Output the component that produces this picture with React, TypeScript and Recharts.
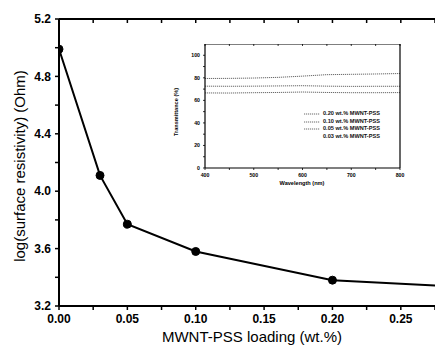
import { LineChart, Line, XAxis, YAxis, Legend } from 'recharts'

const loading = [0, 0.03, 0.05, 0.1, 0.2, 0.3]
const logResistivity = [4.99, 4.11, 3.77, 3.58, 3.38, 3.33]
const loadingTicks = [0, 0.025, 0.05, 0.075, 0.1, 0.125, 0.15, 0.175, 0.2, 0.225, 0.25, 0.275]
const resistivityTicks = [3.2, 3.4, 3.6, 3.8, 4.0, 4.2, 4.4, 4.6, 4.8, 5.0, 5.2]

const wavelength = [400, 450, 500, 550, 600, 650, 700, 750, 800]
const trans005 = [79.4, 79.5, 79.8, 80.4, 81.5, 82.8, 83.1, 83.4, 83.8]
const trans010 = [72.6, 72.5, 72.6, 72.8, 73.0, 72.6, 72.4, 72.5, 72.5]
const trans020 = [66.6, 66.5, 66.8, 67.0, 67.4, 67.0, 66.8, 66.8, 66.9]
const wavelengthTicks = [400, 450, 500, 550, 600, 650, 700, 750, 800]
const transTicks = [0, 10, 20, 30, 40, 50, 60, 70, 80, 90, 100]
const legendLabels = ['0.20 wt.% MWNT-PSS', '0.10 wt.% MWNT-PSS', '0.05 wt.% MWNT-PSS', '0.03 wt.% MWNT-PSS']
const legendHasLine = [true, true, true, false]

const FONT = '"Liberation Sans", Arial, sans-serif'

const mainData = loading.map((x, i) => ({ x, y: logResistivity[i] }))
const insetData = wavelength.map((w, i) => ({
  w,
  t005: trans005[i],
  t010: trans010[i],
  t020: trans020[i],
}))

const fmtLoading = (v: number) => {
  const n = Math.round(v * 1000)
  return n % 50 === 0 ? v.toFixed(2) : ''
}
const fmtRes = (v: number) => (Math.round(v * 10) % 4 === 0 ? v.toFixed(1) : '')
const fmtWave = (v: number) => (v % 100 === 0 ? String(v) : '')
const fmtTrans = (v: number) => (v % 20 === 0 ? String(v) : '')

function InsetLegend() {
  return (
    <div style={{ fontFamily: FONT, fontSize: 5.6, fontWeight: 'bold', color: '#111', lineHeight: '7.7px' }}>
      {legendLabels.map((label, i) => (
        <div key={label} style={{ display: 'flex', alignItems: 'center', height: 7.7 }}>
          <svg width={18} height={4} style={{ marginRight: 1 }}>
            {legendHasLine[i] && (
              <line x1={0} y1={2} x2={16} y2={2} stroke="#444" strokeWidth={0.8} strokeDasharray="1.2 0.8" />
            )}
          </svg>
          <span>{label}</span>
        </div>
      ))}
    </div>
  )
}

export default function App() {
  const axisStroke = { stroke: '#000', strokeWidth: 2 }
  const tickStroke = { stroke: '#000', strokeWidth: 1.5 }
  const tickFont = { fill: '#000', fontSize: 12, fontWeight: 'bold', fontFamily: FONT }
  const insetAxis = { stroke: '#000', strokeWidth: 1.2 }
  const insetTick = { stroke: '#000', strokeWidth: 0.8 }
  const insetTickFont = { fill: '#000', fontSize: 5.2, fontWeight: 'bold', fontFamily: FONT }

  return (
    <div style={{ position: 'absolute', left: 0, top: 0, width: 435, height: 348, overflow: 'hidden', background: '#fff' }}>
      <LineChart width={435} height={348} data={mainData} margin={{ top: 19, right: 0, bottom: 0, left: 0 }}>
        <XAxis
          dataKey="x"
          type="number"
          domain={[0, 0.275]}
          allowDataOverflow
          ticks={loadingTicks}
          interval={0}
          tickFormatter={fmtLoading}
          height={42}
          axisLine={axisStroke}
          tickLine={tickStroke}
          tickSize={4}
          tickMargin={4}
          tick={tickFont}
          label={{
            content: () => (
              <text x={252} y={342} textAnchor="middle" fontFamily={FONT} fontSize={15} fill="#000">
                MWNT-PSS loading (wt.%)
              </text>
            ),
          }}
        />
        <XAxis
          xAxisId="top"
          orientation="top"
          dataKey="x"
          type="number"
          domain={[0, 0.275]}
          allowDataOverflow
          ticks={loadingTicks}
          interval={0}
          tickFormatter={() => ''}
          height={1}
          mirror
          axisLine={axisStroke}
          tickLine={tickStroke}
          tickSize={4}
        />
        <YAxis
          type="number"
          domain={[3.2, 5.2]}
          ticks={resistivityTicks}
          interval={0}
          tickFormatter={fmtRes}
          width={59}
          axisLine={axisStroke}
          tickLine={tickStroke}
          tickSize={4}
          tickMargin={4}
          tick={tickFont}
          label={{
            content: () => (
              <text x={25} y={166} transform="rotate(-90 25 166)" textAnchor="middle" fontFamily={FONT} fontSize={15} fill="#000">
                log(surface resistivity) (Ohm)
              </text>
            ),
          }}
        />
        <Line
          dataKey="y"
          stroke="#000"
          strokeWidth={2}
          dot={{ r: 4, fill: '#000', stroke: '#000', strokeWidth: 1 }}
          isAnimationActive={false}
        />
      </LineChart>

      <div style={{ position: 'absolute', left: 165, top: 44 }}>
        <LineChart width={246} height={148} data={insetData} margin={{ top: 0, right: 11, bottom: 0, left: 0 }}>
          <XAxis
            dataKey="w"
            type="number"
            domain={[400, 800]}
            ticks={wavelengthTicks}
            interval={0}
            tickFormatter={fmtWave}
            height={24}
            axisLine={insetAxis}
            tickLine={insetTick}
            tickSize={2}
            tickMargin={3}
            tick={insetTickFont}
            label={{
              content: () => (
                <text x={137} y={141} textAnchor="middle" fontFamily={FONT} fontSize={5.6} fontWeight="bold" fill="#000">
                  Wavelength (nm)
                </text>
              ),
            }}
          />
          <XAxis
            xAxisId="top"
            orientation="top"
            dataKey="w"
            type="number"
            domain={[400, 800]}
            ticks={wavelengthTicks}
            interval={0}
            tickFormatter={() => ''}
            height={1}
            mirror
            axisLine={insetAxis}
            tickLine={insetTick}
            tickSize={2}
          />
          <YAxis
            type="number"
            domain={[0, 110]}
            ticks={transTicks}
            interval={0}
            tickFormatter={fmtTrans}
            width={40}
            axisLine={insetAxis}
            tickLine={insetTick}
            tickSize={2}
            tickMargin={3}
            tick={insetTickFont}
            label={{
              content: () => (
                <text x={13} y={68} transform="rotate(-90 13 68)" textAnchor="middle" fontFamily={FONT} fontSize={5.6} fontWeight="bold" fill="#000">
                  Transmittance (%)
                </text>
              ),
            }}
          />
          <YAxis
            yAxisId="right"
            orientation="right"
            type="number"
            domain={[0, 110]}
            ticks={transTicks}
            interval={0}
            tickFormatter={() => ''}
            width={1}
            mirror
            axisLine={insetAxis}
            tickLine={insetTick}
            tickSize={2}
          />
          <Line dataKey="t005" stroke="#444" strokeWidth={0.8} strokeDasharray="1.2 0.8" dot={false} isAnimationActive={false} />
          <Line dataKey="t010" stroke="#444" strokeWidth={0.8} strokeDasharray="1.2 0.8" dot={false} isAnimationActive={false} />
          <Line dataKey="t020" stroke="#444" strokeWidth={0.8} strokeDasharray="1.2 0.8" dot={false} isAnimationActive={false} />
          <Legend
            layout="vertical"
            align="center"
            verticalAlign="middle"
            content={() => <InsetLegend />}
            wrapperStyle={{ position: 'absolute', left: 139, top: 66, width: 'auto', height: 'auto' }}
          />
        </LineChart>
      </div>
    </div>
  )
}
